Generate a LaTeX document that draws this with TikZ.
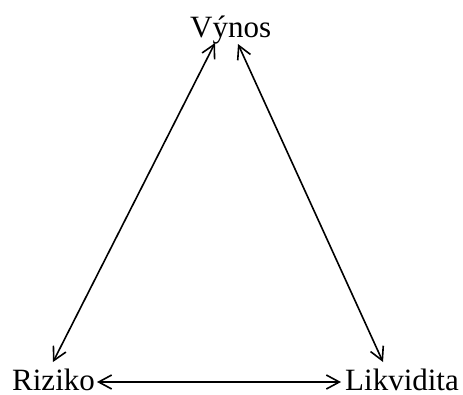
\documentclass[tikz,border=0pt]{standalone}
\usepackage{fontspec}
\setmainfont{Liberation Serif}
\usetikzlibrary{arrows.meta}
\begin{document}
\begin{tikzpicture}[x=1pt,y=-1pt,
  lbl/.style={inner sep=0pt,anchor=base west,font=\fontsize{31}{31}\selectfont},
  link/.style={line width=1.6pt,{Straight Barb[length=13pt,width=14pt,line width=1.6pt]}-{Straight Barb[length=13pt,width=14pt,line width=1.6pt]}}]
\useasboundingbox (0,0) rectangle (463,394);
\node[lbl] (vynos) at (190,37) {Výnos};
\node[lbl] (riziko) at (12,390) {Riziko};
\node[lbl] (likvidita) at (345,390) {Likvidita};
\coordinate (vl) at (215,43);
\coordinate (vr) at (238,44);
\coordinate (rt) at (53,362);
\coordinate (lt) at (383,362);
\coordinate (rr) at (97,382);
\coordinate (ll) at (341,382);
\draw[link] (vl) -- (rt);
\draw[link] (vr) -- (lt);
\draw[link] (rr) -- (ll);
\end{tikzpicture}
\end{document}
